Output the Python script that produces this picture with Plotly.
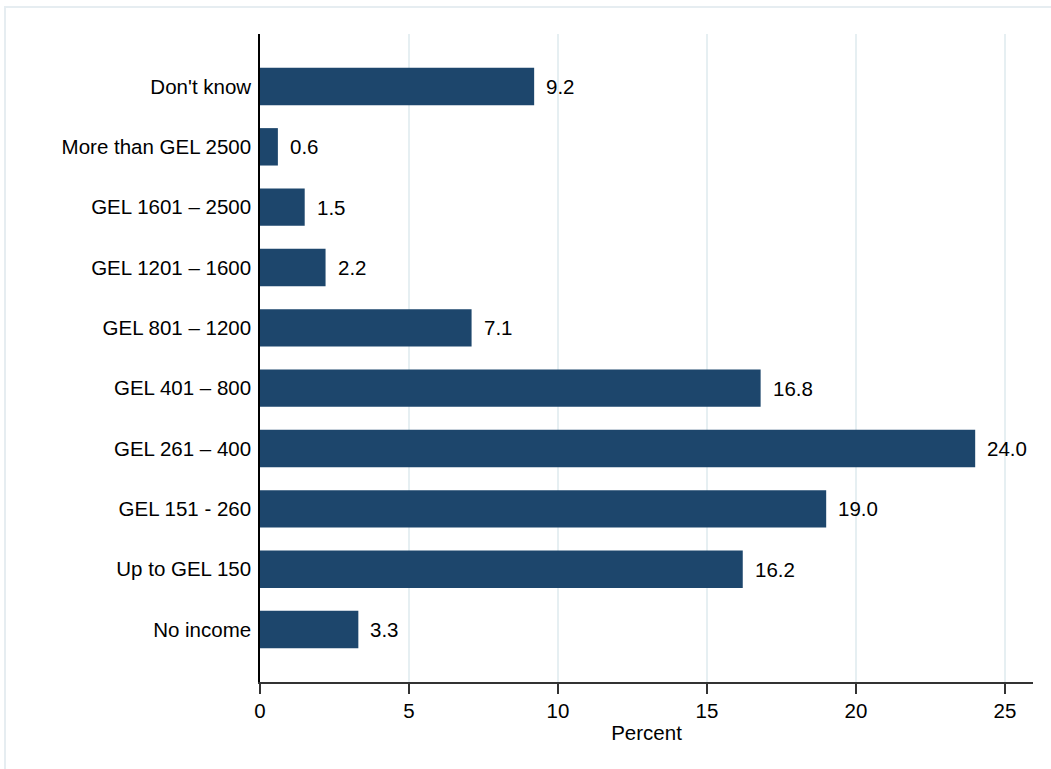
import plotly.graph_objects as go

categories = [
    "No income",
    "Up to GEL 150",
    "GEL 151 - 260",
    "GEL 261 – 400",
    "GEL 401 – 800",
    "GEL 801 – 1200",
    "GEL 1201 – 1600",
    "GEL 1601 – 2500",
    "More than GEL 2500",
    "Don't know",
]
percent = [3.3, 16.2, 19.0, 24.0, 16.8, 7.1, 2.2, 1.5, 0.6, 9.2]
x_ticks = [0, 5, 10, 15, 20, 25]

BAR_COLOR = "#1d466c"
FONT = "Liberation Sans, Arial, sans-serif"
FS = 20.5

fig = go.Figure()
fig.add_trace(go.Bar(
    y=categories,
    x=percent,
    orientation="h",
    width=0.62,
    marker=dict(color=BAR_COLOR, line=dict(width=0)),
    showlegend=False,
    hoverinfo="skip",
))

annotations = []
for cat, val in zip(categories, percent):
    annotations.append(dict(
        x=val, y=cat, text=f"{val:.1f}",
        showarrow=False, xanchor="left", yanchor="middle",
        xshift=10, font=dict(size=FS, color="#000000"),
    ))

# light frame around the whole graph
shapes = [dict(
    type="rect", xref="paper", yref="paper",
    x0=-0.3299, x1=1.05, y0=-0.2, y1=1.0417,
    line=dict(color="#e6edf1", width=2), layer="below",
)]

fig.update_layout(
    width=1051,
    height=769,
    paper_bgcolor="#ffffff",
    plot_bgcolor="#ffffff",
    font=dict(family=FONT, size=FS, color="#000000"),
    margin=dict(l=260, r=18, t=34, b=87),
    xaxis=dict(
        range=[0, 25.94],
        tickvals=x_ticks,
        ticks="outside",
        ticklen=10,
        tickwidth=1.5,
        tickcolor="#333333",
        showline=True,
        linecolor="#333333",
        linewidth=1.5,
        showgrid=True,
        gridcolor="#e6eff2",
        gridwidth=2,
        zeroline=False,
        title=dict(text="Percent", standoff=4, font=dict(size=FS)),
        tickfont=dict(size=FS),
    ),
    yaxis=dict(
        range=[-0.87, 9.87],
        showline=True,
        linecolor="#000000",
        linewidth=1.5,
        ticks="",
        showgrid=False,
        ticklabelstandoff=3,
        tickfont=dict(size=FS),
    ),
    annotations=annotations,
    shapes=shapes,
)

fig.write_html(
    "out.html",
    config={"displayModeBar": False},
    post_script="document.body.style.margin='0';",
)
